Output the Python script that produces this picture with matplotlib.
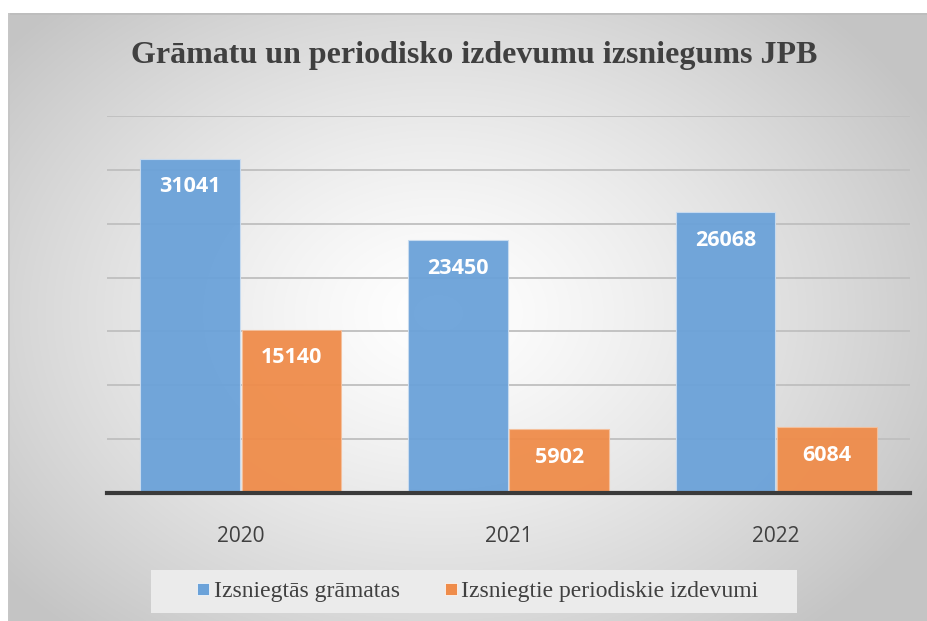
import matplotlib
matplotlib.use('Agg')
import matplotlib.pyplot as plt
from matplotlib.lines import Line2D
from matplotlib.patches import Rectangle
import numpy as np

years = ['2020', '2021', '2022']
books = [31041, 23450, 26068]
periodicals = [15140, 5902, 6084]
series_names = ['Izsniegtās grāmatas', 'Izsniegtie periodiskie izdevumi']
title = 'Grāmatu un periodisko izdevumu izsniegums JPB'

blue = '#6ba2d9'
orange = '#ef8c4a'
txt = '#404040'

W, H = 928, 621
fig = plt.figure(figsize=(W / 100, H / 100), dpi=100)
fig.patch.set_facecolor('white')

# radial grey background of the chart frame
bg = fig.add_axes([8 / W, 0, (W - 8) / W, (H - 13) / H])
yy, xx = np.mgrid[0:608, 0:920]
cx, cy = 430.0, 300.0
r = np.sqrt(((xx - cx) / 560.0) ** 2 + ((yy - cy) / 420.0) ** 2)
shade = 1.0 - 0.23 * np.clip(r, 0, 1) ** 1.3
img = np.dstack([shade, shade, shade])
bg.imshow(img, aspect='auto', extent=(0, 1, 0, 1), origin='upper')
bg.axis('off')
bg.add_line(Line2D([0, 1], [1, 1], color='#bdbdbd', lw=2, transform=bg.transAxes))
bg.add_line(Line2D([0, 0], [0, 1], color='#c6c6c6', lw=2, transform=bg.transAxes))

ax = fig.add_axes([107 / W, (H - 493) / H, 803 / W, (493 - 116) / H])
ax.set_facecolor('none')
x = np.arange(len(years))
bw = 0.373
b1 = ax.bar(x - bw / 2 - 0.003, books, bw, color=blue, alpha=0.95, zorder=3,
            edgecolor='#c9dcf0', linewidth=0.8)
b2 = ax.bar(x + bw / 2 + 0.003, periodicals, bw, color=orange, alpha=0.95, zorder=3,
            edgecolor='#f5c09c', linewidth=0.8)

for bars in (b1, b2):
    for b in bars:
        ax.annotate(str(int(b.get_height())),
                    (b.get_x() + b.get_width() / 2, b.get_height()),
                    xytext=(0, -28), textcoords='offset pixels',
                    ha='center', va='center', color='white', fontsize=15.5,
                    fontweight='bold', family='Open Sans', zorder=5)

ax.set_xlim(-0.5, 2.5)
ax.set_ylim(0, 35000)
ax.set_yticks(np.arange(0, 35001, 5000))
ax.yaxis.grid(True, color='#bfbfbf', lw=1.3, zorder=1)
ax.set_axisbelow(True)
ax.tick_params(axis='y', left=False, labelleft=False)
ax.tick_params(axis='x', bottom=False, pad=20, labelsize=15, labelcolor=txt)
ax.set_xticks(x)
ax.set_xticklabels(years, family='Open Sans')
for s in ('top', 'right', 'left'):
    ax.spines[s].set_visible(False)
ax.spines['bottom'].set_color('#3a3a3a')
ax.spines['bottom'].set_linewidth(3)
ax.spines['bottom'].set_zorder(4)

fig.text(474 / W, 1 - 55 / H, title, ha='center', va='center',
         family='Liberation Serif', fontweight='bold', fontsize=23, color=txt)

# legend
fig.patches.append(Rectangle((151 / W, 1 - 613 / H), 646 / W, 43 / H,
                             transform=fig.transFigure, facecolor='#ebebeb',
                             edgecolor='none', zorder=0))
handles = [Line2D([], [], marker='s', ls='none', markersize=8, color=blue,
                  markeredgecolor='white', markeredgewidth=0.5),
           Line2D([], [], marker='s', ls='none', markersize=8, color=orange,
                  markeredgecolor='white', markeredgewidth=0.5)]
fig.legend(handles, series_names, loc='center', bbox_to_anchor=(478 / W, 1 - 591 / H),
           ncol=2, frameon=False, handlelength=0.5, handletextpad=0.2,
           columnspacing=1.9, prop={'family': 'Liberation Serif', 'size': 17},
           labelcolor=txt)

fig.savefig('out.png', dpi=100)
